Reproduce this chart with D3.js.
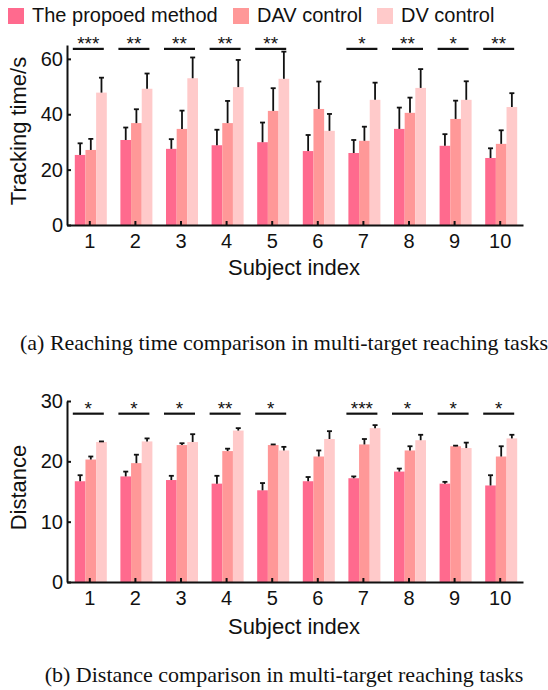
<!DOCTYPE html>
<html>
<head>
<meta charset="utf-8">
<script src="https://cdn.jsdelivr.net/npm/d3@7"></script>
<style>
  body { margin: 0; background: #fff; }
  svg { display: block; }
</style>
</head>
<body>
<div id="chart"></div>
<script>
const subjects = ['1', '2', '3', '4', '5', '6', '7', '8', '9', '10'];
const seriesNames = ['The propoed method', 'DAV control', 'DV control'];
const colors = ['#ff6a8e', '#ff9898', '#ffcaca'];

// (a) tracking time, mean and std
const timeProposed = [25.3, 30.7, 27.5, 28.8, 29.9, 26.7, 26.0, 34.7, 28.6, 24.2];
const timeProposedSd = [4.2, 4.5, 3.5, 5.6, 7.1, 5.8, 4.7, 7.7, 4.2, 3.5];
const timeDAV = [27.1, 36.8, 34.7, 36.8, 41.2, 41.9, 30.4, 40.5, 38.3, 29.3];
const timeDAVSd = [4.0, 5.0, 6.6, 8.0, 8.2, 9.9, 5.1, 5.5, 6.6, 4.9];
const timeDV = [47.8, 49.2, 53.0, 49.8, 52.8, 34.0, 45.2, 49.5, 45.2, 42.6];
const timeDVSd = [5.4, 5.5, 7.5, 9.8, 9.8, 6.1, 6.2, 6.8, 6.7, 5.0];
const timeSig = ['***', '**', '**', '**', '**', '', '*', '**', '*', '**'];
const timeTicks = [0, 20, 40, 60];

// (b) distance, mean and std
const distProposed = [16.7, 17.5, 16.9, 16.3, 15.2, 16.7, 17.2, 18.3, 16.3, 16.0];
const distProposedSd = [1.0, 0.8, 0.7, 1.3, 1.2, 0.7, 0.3, 0.5, 0.3, 1.7];
const distDAV = [20.3, 19.7, 22.7, 21.7, 22.7, 20.8, 22.8, 21.8, 22.5, 20.8];
const distDAVSd = [0.5, 1.4, 0.3, 0.4, 0.1, 1.0, 0.9, 0.7, 0.1, 1.7];
const distDV = [23.2, 23.3, 23.2, 25.1, 21.8, 23.7, 25.5, 23.5, 22.2, 23.8];
const distDVSd = [0.1, 0.5, 1.3, 0.4, 0.6, 1.3, 0.5, 0.9, 0.9, 0.6];
const distSig = ['*', '*', '*', '**', '*', '', '***', '*', '*', '*'];
const distTicks = [0, 10, 20, 30];

const width = 548;
const height = 690;
const sans = 'Liberation Sans, Arial, Helvetica, sans-serif';
const serif = 'Liberation Serif, Times New Roman, serif';

const svg = d3.select('#chart')
  .append('svg')
  .attr('width', width)
  .attr('height', height)
  .attr('viewBox', [0, 0, width, height])
  .style('background', '#fff');

// legend
const legend = svg.append('g');
const legendX = [8, 233, 377];
seriesNames.forEach((name, i) => {
  legend.append('rect')
    .attr('x', legendX[i]).attr('y', 8)
    .attr('width', 16).attr('height', 16)
    .attr('fill', colors[i]);
  legend.append('text')
    .attr('x', legendX[i] + 24).attr('y', 22)
    .attr('font-family', sans).attr('font-size', 20)
    .attr('fill', '#111')
    .text(name);
});

function panel(opts) {
  const { top, bottom, yMax, ticks, means, sds, sig, sigY, yLabel, titleY, caption, captionY } = opts;
  const left = 67;
  const right = 523;

  const x = d3.scaleBand().domain(subjects).range([left, right]).padding(0);
  const xs = d3.scaleBand().domain(seriesNames).range([-15, 17]);
  const y = d3.scaleLinear().domain([0, yMax]).range([bottom, top]);

  const g = svg.append('g');

  const rows = [];
  subjects.forEach((s, i) => {
    seriesNames.forEach((n, j) => {
      rows.push({ s, n, j, v: means[j][i], e: sds[j][i] });
    });
  });

  g.append('g')
    .selectAll('rect')
    .data(rows)
    .join('rect')
      .attr('x', d => x(d.s) + x.bandwidth() / 2 + xs(d.n))
      .attr('y', d => y(d.v))
      .attr('width', xs.bandwidth())
      .attr('height', d => y(0) - y(d.v))
      .attr('fill', d => colors[d.j]);

  // error bars (upper half only)
  const err = g.append('g')
    .attr('stroke', '#111')
    .attr('stroke-width', 1.8);
  const cx = d => x(d.s) + x.bandwidth() / 2 + xs(d.n) + xs.bandwidth() / 2;
  err.selectAll('line.v')
    .data(rows)
    .join('line')
      .attr('class', 'v')
      .attr('x1', cx).attr('x2', cx)
      .attr('y1', d => y(d.v)).attr('y2', d => y(d.v + d.e));
  err.selectAll('line.c')
    .data(rows)
    .join('line')
      .attr('class', 'c')
      .attr('x1', d => cx(d) - 2.5).attr('x2', d => cx(d) + 2.5)
      .attr('y1', d => y(d.v + d.e)).attr('y2', d => y(d.v + d.e));

  // significance marks
  const sigRows = subjects.map((s, i) => ({ s, t: sig[i] })).filter(d => d.t);
  g.append('g')
    .selectAll('line')
    .data(sigRows)
    .join('line')
      .attr('x1', d => x(d.s) + x.bandwidth() / 2 - 17)
      .attr('x2', d => x(d.s) + x.bandwidth() / 2 + 14)
      .attr('y1', y(sigY)).attr('y2', y(sigY))
      .attr('stroke', '#111')
      .attr('stroke-width', 2.2);
  g.append('g')
    .selectAll('text')
    .data(sigRows)
    .join('text')
      .attr('x', d => x(d.s) + x.bandwidth() / 2 - 1.5)
      .attr('y', y(sigY) + 1)
      .attr('text-anchor', 'middle')
      .attr('font-family', sans)
      .attr('font-size', 19)
      .attr('fill', '#111')
      .text(d => d.t);

  // axes
  const xAxis = g.append('g')
    .attr('transform', `translate(0,${bottom})`)
    .call(d3.axisBottom(x).tickSizeInner(-4).tickSizeOuter(0).tickPadding(8.5));
  const yAxis = g.append('g')
    .attr('transform', `translate(${left},0)`)
    .call(d3.axisLeft(y).tickValues(ticks).tickSizeInner(-4).tickSizeOuter(0).tickPadding(4));
  [xAxis, yAxis].forEach(a => {
    a.attr('font-family', sans).attr('font-size', 20);
    a.selectAll('path, line').attr('stroke', '#111').attr('stroke-width', 2);
    a.selectAll('text').attr('fill', '#111');
  });

  g.append('text')
    .attr('x', 294).attr('y', titleY)
    .attr('text-anchor', 'middle')
    .attr('font-family', sans).attr('font-size', 22)
    .attr('fill', '#111')
    .text('Subject index');

  g.append('text')
    .attr('transform', `translate(26,${(top + bottom) / 2 - 4}) rotate(-90)`)
    .attr('text-anchor', 'middle')
    .attr('font-family', sans).attr('font-size', 22)
    .attr('fill', '#111')
    .text(yLabel);

  svg.append('text')
    .attr('x', 284).attr('y', captionY)
    .attr('text-anchor', 'middle')
    .attr('font-family', serif).attr('font-size', 22)
    .attr('fill', '#111')
    .text(caption);
}

panel({
  top: 45, bottom: 225, yMax: 65, ticks: timeTicks,
  means: [timeProposed, timeDAV, timeDV],
  sds: [timeProposedSd, timeDAVSd, timeDVSd],
  sig: timeSig, sigY: 63.6,
  yLabel: 'Tracking time/s', titleY: 275,
  caption: '(a) Reaching time comparison in multi-target reaching tasks', captionY: 350
});

panel({
  top: 401, bottom: 582, yMax: 30, ticks: distTicks,
  means: [distProposed, distDAV, distDV],
  sds: [distProposedSd, distDAVSd, distDVSd],
  sig: distSig, sigY: 27.9,
  yLabel: 'Distance', titleY: 634,
  caption: '(b) Distance comparison in multi-target reaching tasks', captionY: 682
});
</script>
</body>
</html>
